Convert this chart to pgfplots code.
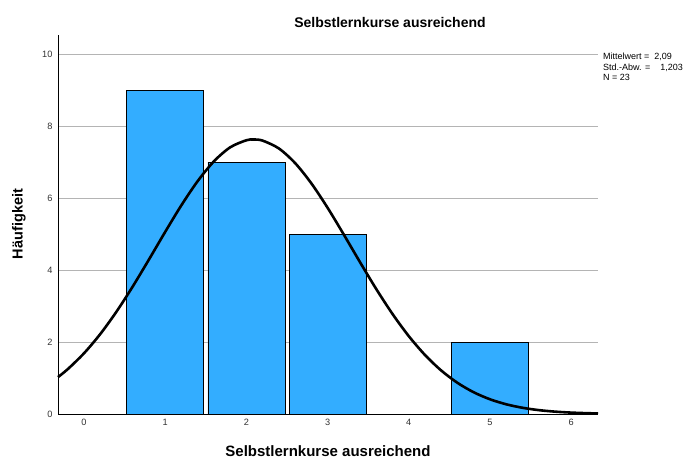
\documentclass[border=0pt]{standalone}
\usepackage{fontspec}
\setmainfont{Liberation Sans}
\usepackage{pgfplots}
\pgfplotsset{compat=1.18}
\definecolor{barblue}{RGB}{51,173,255}
\definecolor{gridgray}{RGB}{180,180,180}
\begin{document}
\begin{tikzpicture}[x=1pt,y=1pt]
\useasboundingbox (0,0) rectangle (690,464);
\begin{axis}[
  at={(58pt,50pt)}, anchor=south west,
  scale only axis, width=540pt, height=379pt,
  xmin=-0.32, xmax=6.33, ymin=0, ymax=10.53,
  axis x line*=bottom, axis y line*=left,
  axis line style={-, black, line width=0.8pt},
  xtick={0,1,2,3,4,5,6}, ytick={0,2,4,6,8,10},
  major tick length=0pt,
  ymajorgrids, grid style={gridgray, line width=0.8pt},
  tick label style={font=\fontsize{9.2}{11}\selectfont, text=black!80},
  /pgf/number format/assume math mode=true,
  xticklabel style={yshift=-2pt},
  yticklabel style={xshift=-2pt},
  clip=false,
]
\addplot[ybar, bar width=77pt, fill=barblue, draw=black, line width=0.6pt] coordinates {(1,9) (2,7) (3,5) (5,2)};
\addplot[black, line width=2.6pt, smooth] coordinates {
(-0.32,1.0253) (-0.2,1.2459) (0,1.6865) (0.2,2.2201) (0.4,2.8431) (0.6,3.5418)
(0.8,4.2920) (1.0,5.0594) (1.2,5.8010) (1.4,6.4701) (1.6,7.0199) (1.8,7.4086)
(2.0,7.6057) (2.09,7.627) (2.2,7.5952) (2.4,7.3779) (2.6,6.9715) (2.8,6.4079)
(3.0,5.7293) (3.2,4.9831) (3.4,4.2156) (3.6,3.4691) (3.8,2.7771) (4.0,2.1626)
(4.2,1.6381) (4.4,1.2070) (4.6,0.8651) (4.8,0.6032) (5.0,0.4090) (5.2,0.2698)
(5.4,0.1731) (5.6,0.1081) (5.8,0.0656) (6.0,0.0388) (6.2,0.0223) (6.33,0.0153)};
\end{axis}
\node[font=\bfseries\fontsize{14}{16}\selectfont] at (390,442) {Selbstlernkurse ausreichend};
\node[font=\bfseries\fontsize{15}{17}\selectfont] at (328,13) {Selbstlernkurse ausreichend};
\node[font=\bfseries\fontsize{14.5}{17}\selectfont, rotate=90] at (19,240) {Häufigkeit};
\node[font=\fontsize{9}{10.5}\selectfont, anchor=north west, align=left, inner sep=0pt] at (603,411)
{Mittelwert =\ \ 2,09\\Std.-Abw. =\ \ \ \ 1,203\\N = 23};
\end{tikzpicture}
\end{document}
